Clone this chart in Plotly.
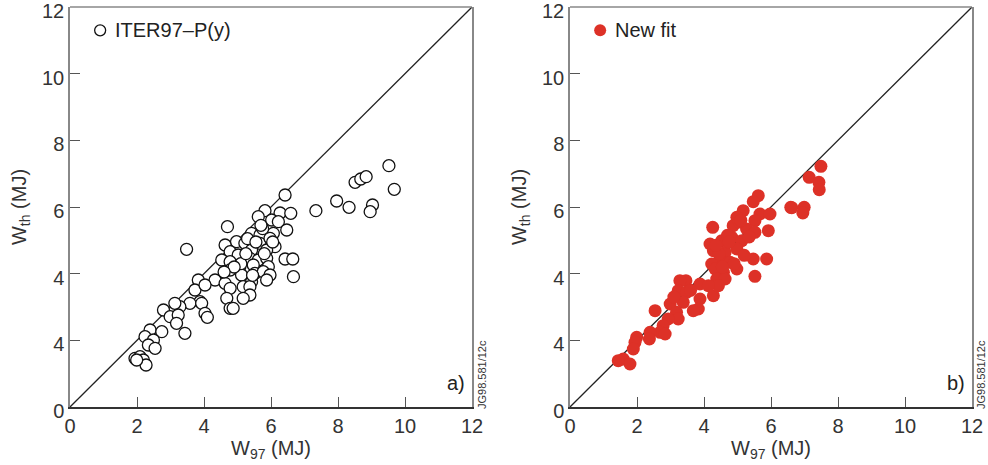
import plotly.graph_objects as go

# ---- data: panel a) ITER97-P(y) ----
a_x = [6.42, 5.82, 5.62, 6.27, 6.59, 6.02, 6.22, 6.47, 4.70, 3.48, 5.42, 5.67, 6.07, 4.97, 5.22,
       5.67, 5.97, 6.12, 4.63, 4.78, 5.02, 5.42, 5.87, 4.53, 4.78, 5.37, 5.62, 5.87, 6.42, 6.65,
       4.78, 5.07, 5.47, 5.92, 5.12, 5.52, 5.77, 5.97, 6.67, 5.87, 5.42, 4.33, 4.63, 3.83, 5.17,
       5.37, 4.78, 5.37, 5.17, 4.68, 4.78, 4.87, 3.73, 4.03, 3.88, 3.58, 3.93, 4.03, 4.10, 3.28,
       3.13, 2.79, 2.99, 3.23, 3.18, 3.43, 2.39, 2.74, 2.24, 2.49, 2.34, 2.54, 1.94, 2.09, 2.19,
       2.27, 1.99, 7.34, 7.96, 8.33, 8.51, 8.68, 8.84, 9.52, 9.68, 9.03, 8.96,
       5.30, 5.75, 5.55, 5.10, 4.90, 5.45, 5.80, 6.05, 5.25, 4.60, 5.70]
a_y = [6.36, 5.89, 5.71, 5.82, 5.81, 5.61, 5.56, 5.31, 5.41, 4.73, 5.21, 5.16, 5.21, 4.96, 4.91,
       4.91, 5.06, 4.81, 4.86, 4.66, 4.56, 4.71, 4.71, 4.41, 4.36, 4.46, 4.41, 4.46, 4.44, 4.44,
       4.11, 4.21, 4.26, 4.21, 3.96, 4.01, 4.06, 3.96, 3.91, 3.81, 3.76, 3.81, 3.71, 3.81, 3.61,
       3.61, 3.56, 3.36, 3.26, 3.26, 2.96, 2.96, 3.51, 3.66, 3.16, 3.11, 3.11, 2.81, 2.69, 3.01,
       3.11, 2.91, 2.71, 2.76, 2.51, 2.21, 2.31, 2.26, 2.11, 2.01, 1.86, 1.76, 1.46, 1.51, 1.41,
       1.26, 1.41, 5.89, 6.18, 5.99, 6.74, 6.84, 6.91, 7.24, 6.53, 6.06, 5.86,
       5.05, 5.35, 4.95, 4.30, 4.20, 3.95, 4.60, 4.95, 4.60, 4.05, 5.45]

# ---- data: panel b) New fit ----
b_x = [5.62, 5.47, 6.59, 5.17, 4.98, 5.67, 5.97, 5.52, 5.92, 4.26, 4.87, 5.27, 5.52, 4.83, 5.13,
       4.53, 4.18, 4.28, 4.63, 4.98, 4.48, 4.23, 4.78, 4.98, 5.47, 5.87, 5.52, 4.33, 4.58, 4.38,
       4.63, 4.28, 4.43, 3.88, 4.13, 3.46, 3.28, 3.23, 3.48, 3.88, 3.83, 3.68, 3.38, 2.99, 3.18,
       2.54, 3.23, 2.93, 2.78, 2.69, 2.84, 2.39, 2.37, 1.99, 1.94, 1.89, 1.59, 1.79, 1.44,
       7.49, 7.14, 7.43, 7.44, 6.62, 6.99, 6.95,
       5.05, 4.70, 5.35, 4.45, 4.90, 5.20, 4.35, 4.75, 5.10, 4.55, 3.10, 3.60]
b_y = [6.34, 6.16, 5.99, 5.89, 5.69, 5.79, 5.79, 5.59, 5.29, 5.39, 5.44, 5.34, 5.24, 5.09, 4.99,
       4.99, 4.89, 4.69, 4.64, 4.74, 4.44, 4.29, 4.34, 4.14, 4.44, 4.44, 3.92, 4.14, 4.04, 3.84,
       3.84, 3.34, 3.64, 3.69, 3.64, 3.79, 3.79, 3.49, 3.44, 3.24, 2.94, 2.89, 3.14, 3.09, 2.84,
       2.89, 2.64, 2.64, 2.44, 2.24, 2.19, 2.24, 2.04, 2.09, 1.94, 1.74, 1.44, 1.29, 1.39,
       7.22, 6.89, 6.74, 6.52, 5.98, 5.99, 5.82,
       5.55, 5.15, 5.10, 4.60, 4.30, 4.55, 4.85, 4.95, 5.60, 4.20, 3.30, 3.50]

ticks = [0, 2, 4, 6, 8, 10, 12]
x_ticktext = ["0", "2", "4", "6", "8", "10", "12"]
y_ticktext = ["0", "4", "4", "6", "8", "10", "12"]
diag = [0, 12]

FONT = "Liberation Sans, Arial, sans-serif"
FS = 20

fig = go.Figure()
fig.add_trace(go.Scatter(x=diag, y=diag, mode="lines", line=dict(color="#222", width=1.3),
                         xaxis="x", yaxis="y", showlegend=False, hoverinfo="skip"))
fig.add_trace(go.Scatter(x=a_x, y=a_y, mode="markers", name="ITER97\u2013P(y)",
                         marker=dict(size=12, color="white", line=dict(color="#111", width=1.3)),
                         xaxis="x", yaxis="y", showlegend=False))
fig.add_trace(go.Scatter(x=diag, y=diag, mode="lines", line=dict(color="#222", width=1.3),
                         xaxis="x2", yaxis="y2", showlegend=False, hoverinfo="skip"))
fig.add_trace(go.Scatter(x=b_x, y=b_y, mode="markers", name="New fit",
                         marker=dict(size=13, color="#dd3127", line=dict(width=0)),
                         xaxis="x2", yaxis="y2", showlegend=False))
# legend keys drawn inside the plots
fig.add_trace(go.Scatter(x=[0.9], y=[11.3], mode="markers",
                         marker=dict(size=11, color="white", line=dict(color="#111", width=1.3)),
                         xaxis="x", yaxis="y", showlegend=False, hoverinfo="skip"))
fig.add_trace(go.Scatter(x=[0.9], y=[11.3], mode="markers",
                         marker=dict(size=12, color="#dd3127"),
                         xaxis="x2", yaxis="y2", showlegend=False, hoverinfo="skip"))

ydom = [1 - 407 / 465, 1 - 7 / 465]
xdom1 = [70 / 988, 472 / 988]
xdom2 = [570 / 988, 972 / 988]

def xax(dom, anchor):
    return dict(domain=dom, anchor=anchor, range=[0, 12], tickmode="array", tickvals=ticks,
                ticktext=x_ticktext, ticks="inside", ticklen=10, tickcolor="#555", tickwidth=1.3,
                showline=True, linecolor="#333", linewidth=1.5, showgrid=False, zeroline=False,
                ticklabeloverflow="allow", automargin=False,
                tickfont=dict(family=FONT, size=FS, color="#333"),
                title=dict(text="W<sub>97</sub> (MJ)", font=dict(family=FONT, size=FS, color="#333"),
                           standoff=4))

def yax(dom, anchor):
    return dict(domain=dom, anchor=anchor, range=[0, 12], tickmode="array", tickvals=ticks,
                ticktext=y_ticktext, ticks="inside", ticklen=10, tickcolor="#555", tickwidth=1.3,
                showline=True, linecolor="#888", linewidth=1.5, mirror=True, showgrid=False,
                zeroline=False, ticklabeloverflow="allow", automargin=False, ticklabelshift=4,
                tickfont=dict(family=FONT, size=FS, color="#333"),
                title=dict(text="W<sub>th</sub> (MJ)", font=dict(family=FONT, size=FS, color="#333"),
                           standoff=10))

fig.update_layout(
    width=988, height=465, margin=dict(l=0, r=0, t=0, b=0, autoexpand=False),
    paper_bgcolor="white", plot_bgcolor="white",
    xaxis=xax(xdom1, "y"), yaxis=yax(ydom, "x"),
    xaxis2=xax(xdom2, "y2"), yaxis2=yax(ydom, "x2"),
    showlegend=False,
)

shapes = []
for d in (xdom1, xdom2):
    shapes.append(dict(type="line", xref="paper", yref="paper", x0=d[0], x1=d[1],
                       y0=ydom[1], y1=ydom[1], line=dict(color="#888", width=1.5)))
fig.update_layout(shapes=shapes)

ann = []
ann.append(dict(text="ITER97\u2013P(y)", x=1.27, y=11.3, xref="x", yref="y", xanchor="left",
                yanchor="middle", showarrow=False, font=dict(family=FONT, size=FS, color="#222")))
ann.append(dict(text="New fit", x=1.27, y=11.3, xref="x2", yref="y2", xanchor="left",
                yanchor="middle", showarrow=False, font=dict(family=FONT, size=FS, color="#222")))
ann.append(dict(text="a)", x=11.85, y=0.72, xref="x", yref="y", xanchor="right", yanchor="middle",
                showarrow=False, font=dict(family=FONT, size=FS, color="#222")))
ann.append(dict(text="b)", x=11.85, y=0.72, xref="x2", yref="y2", xanchor="right", yanchor="middle",
                showarrow=False, font=dict(family=FONT, size=FS, color="#222")))
for xp in (482 / 988, 981 / 988):
    ann.append(dict(text="JG98.581/12c", x=xp, y=1 - 375 / 465, xref="paper", yref="paper",
                    textangle=-90, showarrow=False, xanchor="center", yanchor="middle",
                    font=dict(family=FONT, size=11, color="#333")))
fig.update_layout(annotations=ann)

fig.write_html("out.html")
